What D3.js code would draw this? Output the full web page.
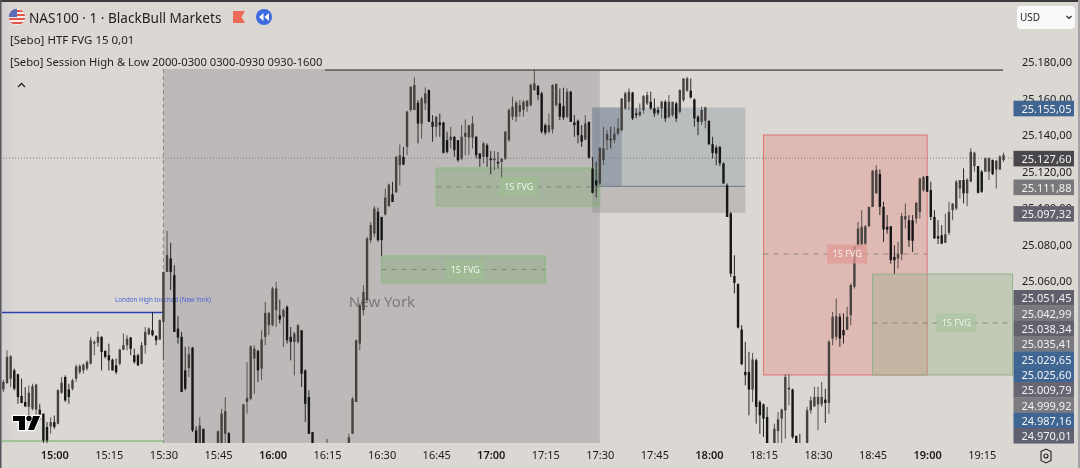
<!DOCTYPE html>
<html><head><meta charset="utf-8">
<script src="https://cdnjs.cloudflare.com/ajax/libs/d3/7.8.5/d3.min.js"></script>
<style>html,body{margin:0;padding:0;background:#dcd8d4;overflow:hidden}svg{display:block;filter:blur(0.35px)}</style>
</head><body><svg id="c" width="1080" height="468"></svg>
<script>
const PRICE_BASE = 25000;
const FIRST_MINUTE = 1; // minutes after 14:45
// each row: high, body top, body bottom, low (price minus PRICE_BASE), one row per minute
const candleRows = [
[5.9,4.7,.6,-.8],[22,18.4,4.1,3.7],[19.3,18.7,6.5,1.9],[12,11,1,0],[9.2,8.9,-3.6,-7.3],[6.5,-3,-6.9,-6.9],[1.9,-6.3,-8.7,-9],[2.8,-1.2,-9,-13.7],[3.7,2.4,-10,-10.9],[3.7,3.2,-10.5,-13.7],
[-7.3,-10.5,-13.3,-16.4],[-12.7,-12.7,-27.4,-28.8],[-17.3,-20,-27.4,-28.8],[-14.6,-17.3,-19.7,-23.7],[-13.7,-17.3,-20,-21],[.7,.2,-18.2,-18.6],[7.4,4.3,-1.2,-1.8],[8.3,7.4,-5.4,-6.3],[3.7,.6,-3.6,-7.3],[6.5,5.6,1,0],
[14.2,13.2,6.5,4.6],[14.3,13.4,10.1,8.9],[14.7,14.2,11,9.2],[16.5,15.6,12,11],[29.4,27.5,14.7,14.3],[27.5,26.6,25.7,19.3],[32.5,29.4,26.2,23.9],[29.7,29.4,21.1,11],[22,21.7,18.4,17.5],[25.7,19.3,16.5,11],
[17.5,16.9,11,11],[17.5,13.8,10.1,8.9],[23,22.4,14.7,13.8],[31.2,24.8,22.4,22],[30.3,28.4,24.8,22],[29.4,29,22.9,19.3],[22.9,19.3,15.6,14.7],[20.2,19.3,13.8,13.4],[26.6,24.8,14.7,14.3],[34.8,32.1,24.8,20.2],
[34.5,33.9,30.8,30.3],[43,33,30.3,29.7],[30.3,29.9,27.5,24.8],[38.9,38.5,27.9,27.9],[65,65,37.6,16.5],[87.5,74.2,65,65],[81,72.4,65,55],[68.7,63.2,32.1,32.1],[40.7,33.9,29,25.7],[32.1,29.4,-.8,-.8],
[23.9,11,1,0],[24.2,19.8,12.3,7.4],[23.9,23.5,-21.9,-22.8],[-19.7,-21.9,-33,-35],[-14.6,-19.1,-33,-35],[-21,-21,-33,-35],[-31,-33,-42,-45],[-32,-34,-44,-47],[-32,-35,-42,-46],[-21.9,-22.3,-33,-36],
[-10,-12.7,-33,-36],[-3.6,-11.3,-23.7,-33],[-22.8,-23.4,-33,-36],[-31,-33,-40,-44],[-32,-35,-42,-45],[-30,-33,-38,-42],[-7.3,-7.6,-33,-36],[15.6,-4,-6.3,-12.7],[24.8,24.2,-4.5,-5.4],[24.8,22.9,17.5,-1.8],
[22.4,21.7,11,4.6],[33,27.9,12,5.6],[48.6,42.5,29.4,24.8],[43.1,42.5,35.8,30.3],[56.8,55.9,35.8,35.2],[59.5,55.9,44,34.8],[49.8,41.2,38.9,36.7],[44.9,44,40.3,23.9],[46.7,45.8,27.5,25.7],[34.8,29.4,26.6,16.5],
[32.1,31.2,26.6,8.3],[36.3,35.8,26.6,25.7],[33,33,9.2,1.9],[11.6,11,-7.3,-17.3],[.1,-3.6,-23.7,-23.7],[-22.8,-22.8,-33,-36],[-31,-33,-38,-42],[-32,-34,-40,-44],[-31,-34,-39,-43],[-26.5,-30,-34,-37],
[-31,-34,-40,-42],[-32,-35,-40,-44],[-31,-33,-39,-42],[-30,-32,-38,-41],[-30,-32,-36,-40],[-23.7,-25.6,-33,-36],[-3.6,-4.5,-23.7,-23.7],[27.9,27.5,-6.3,-6.3],[47.7,46.7,25.7,22],[57.7,54,44,41.2],
[84.3,83.3,49.5,49.5],[92.2,90.7,82.4,80.6],[101.1,99.7,86,84],[100.2,98,82.4,81.5],[95.1,95.1,82.4,73.6],[110.6,105.7,96.4,96],[113.4,112.8,101.1,100.6],[114.3,107.5,103.3,103.3],[128.6,128,108.6,108.3],[134.8,128.9,123.5,112.5],
[133.5,128,123.8,123.5],[153.3,152.8,133.5,128.9],[166.5,166.5,153.7,152.8],[171.6,167.4,153.7,153.7],[159.1,157.7,146.3,135.4],[161,160,146.3,138.1],[166.1,162.8,157.3,153.7],[165,164.6,147.2,147.2],[150.9,147.2,144.5,136.3],[150.4,150,144.5,139],
[151.8,146.9,145.4,139],[147.2,146.9,130.2,129.9],[141.8,137.2,130.8,129.9],[144.5,139,137.2,132.6],[139.4,139,131.7,128],[137.2,137.2,126.2,125.3],[145.4,139,127.1,126.2],[148.5,141.2,139,128.9],[145.4,145.4,138.6,128.9],[150.4,146.3,138.6,132.6],
[139.4,139,128.9,127.1],[129.9,129.9,127.1,122.5],[136.3,135.4,128,124.4],[135.4,134.4,128,122.5],[131.3,127.1,126.2,118.5],[131.3,127.1,126.2,120.7],[130.8,125.3,124.4,121.6],[127.1,127.1,125.3,116.1],[142.3,141.8,127.1,126.2],[154.6,153.7,137.2,136.3],
[161,155.5,150,148.2],[158.8,157.7,150,147.2],[159.1,156.4,152.7,150],[159.1,158.2,153.7,150],[159.1,158.8,155.5,152.7],[168.3,167.4,156.4,155.5],[176,168.3,164.6,164.3],[167.4,166.8,161.9,159.1],[163.7,162.8,141.8,140.8],[146.3,145.4,141.2,139.9],
[151.8,145.4,141.8,140.8],[167.9,167.4,143,140.8],[168.3,167.9,156.4,155.5],[165.5,157.3,150,148.2],[165.9,155.8,149.6,148.2],[165.5,163.7,150,149.1],[164.3,163.7,147.2,147.2],[150.9,146.9,145.4,139],[148.5,147.8,139.9,135.4],[145.4,139.9,136.3,133.5],
[150.9,146.3,137.5,137.2],[147.2,147.2,127.5,127.1],[128,121.6,108.3,108],[125.3,115.2,112.5,105.7],[133.2,133,113.4,112.5],[144.5,132.6,126.2,123.5],[142.7,140.5,137.2,131.7],[144.5,137.7,137.2,132.6],[144.5,140.8,137.2,135.4],[149.1,143.6,140.8,139.9],
[160,160,142.7,141.8],[163.7,162.8,154.6,153.7],[165.5,163.7,158.2,153.7],[163.7,163.2,149.1,148.2],[154.6,151.8,150.9,149.1],[157.3,152.7,150.9,150],[161.9,161.3,153.7,151.8],[163.7,161.9,157.3,156.4],[163.7,158.2,154.6,153.7],[160,154.6,151.8,150],
[155.5,153.7,152.2,150.9],[158.8,158.2,154.6,149.1],[159.1,158.2,149.1,147.2],[161.9,158.2,150,149.1],[158.2,158.2,150.9,150],[158.2,157.3,149.1,147.2],[165,164.6,152.7,151.8],[171,171,159.1,158.2],[171.9,171,164.3,163.7],[171,164.3,160.6,160],
[160,159.5,149.1,144.5],[150.9,150,147.2,139.9],[155.5,153.7,147.2,145.4],[155.5,155.1,147.8,143.6],[147.8,147.8,135,134.4],[139,135,130.2,127.1],[134.4,133.1,129.9,123.5],[134,133.5,124.5,123],[125,124.4,113.5,113.1],[113.5,112.5,95.1,95.1],
[97.9,97,64,62.2],[74.1,62.7,59,53.2],[58.7,58.3,34.5,34],[35.8,33.4,14.4,13.9],[26.7,10.2,8.4,2.9],[21.2,10.2,.5,-13.6],[20.6,17,.5,-6.3],[17.5,16.6,-9,-18.2],[-5.4,-6.3,-13.6,-23.7],[-7.2,-7.6,-15.4,-25.5],
[-9,-14.5,-33,-36],[-31,-34,-40,-44],[-18.2,-20.9,-33,-36],[-11.8,-15.8,-22.2,-33],[-9.9,-10.5,-15.4,-33],[8.9,7.4,-10.9,-26.4],[8.9,1.6,.5,-8.1],[1,.5,-25.5,-26.4],[-24.6,-25,-33,-36],[-23.7,-33,-36,-38],
[-31,-34,-40,-43],[-9,-10.9,-33,-36],[-3.2,-5.4,-10.9,-12.7],[2,-3.5,-8.7,-9],[2,-3.5,-7.6,-21.8],[4.7,-3.5,-7.6,-9],[1,-5,-6.8,-17.8],[27.6,26.7,-6.8,-12.7],[43.1,40.4,28.5,24.8],
[50.4,40.7,29.4,27.6],[42.2,40.4,28.5,23.9],[42.2,33.1,30.3,25.7],[45.9,40.4,33.4,33.1],[58.7,57.8,41.3,35.8],[79,79,56.9,55.9],[92.4,88.7,79.6,78.7],[98.8,89.7,80.2,78.7],[90.6,90,80.5,79.6],[100.6,100.6,90,89.7],
[120.8,120.4,100.6,100.6],[123.5,120.8,108,108],[121.1,118.6,100.6,96.1],[103.4,100.6,88.2,81.4],[96.1,89.7,88.2,86],[90,90,71.4,69.5],[79.6,73.2,71.4,64],[81.4,74.7,72.3,66.8],[97.3,95.5,74.7,71.4],[102.5,95.5,93.7,88.7],
[96.1,93.3,82.3,78.7],[96.1,93.3,82,75.9],[103.4,102.8,94.2,91.5],[116.2,116.2,97.9,94.2],[117.5,117.1,109.8,108.9],[117.5,117.5,108.9,108.9],[114.4,109.8,95.1,93.3],[98.8,95.1,83.3,83.3],[93.3,84.5,83.3,80.2],[90.6,85.1,80.5,80.2],
[97,85.6,80.9,80.9],[103.4,97.9,86.4,85.1],[102.5,102.5,98.8,93.3],[115.3,114.4,99.7,98.8],[115.3,115.3,110.7,105.2],[121.7,115.3,108,102.5],[116.2,115.6,108,101],[132.7,130.8,114.4,114.4],[130.8,130.3,123,119.9],[123,123,108.3,108],
[120.8,119.9,108.9,108.3],[127.7,127.2,119.9,119.9],[127.7,127.2,119.9,115.3],[126.6,126.2,118.6,118],[126.2,125.9,121.1,110.7],[129,128.1,121.1,120.8],[130.3,129,126.2,125.3]
];
const priceTicks = [25180,25160,25140,25120,25100,25080,25060];
const timeTicks = ["15:00","15:15","15:30","15:45","16:00","16:15","16:30","16:45","17:00","17:15","17:30","17:45","18:00","18:15","18:30","18:45","19:00","19:15"];
const timeTickMinutes = [15,30,45,60,75,90,105,120,135,150,165,180,195,210,225,240,255,270];
const upperTagPrices = [25155.05,25127.60,25111.88,25097.32];
const upperTagColors = ["#3f6590","#49474b","#79787b","#63626c"];
const stackTagPrices = [25051.45,25042.99,25038.34,25035.41,25029.65,25025.60,25009.79,24999.92,24987.16,24970.01];
const stackTagColors = ["#5f5f6b","#78787f","#62626d","#78787e","#3f6593","#3f6593","#666673","#7c7c80","#3f6593","#5f6170"];
const fvgZones = [
 {from:120,to:165,top:25121.9,bottom:25101.1,mid:25111.6,tagAt:142.7,fill:"#7aa86e",stroke:"#8abb7f",tag:"#9dbd92",op:.34},
 {from:105,to:150,top:25073.7,bottom:25058.9,mid:25066.3,tagAt:128,fill:"#7aa86e",stroke:"#8abb7f",tag:"#9dbd92",op:.34},
 {from:210,to:255,top:25140,bottom:25008.5,mid:25074.8,tagAt:233,fill:"#e58e8b",stroke:"#de7573",tag:"#e29a96",op:.42},
 {from:240,to:278.5,top:25063.8,bottom:25008.5,mid:25037,tagAt:263,fill:"#95b285",stroke:"#93b08a",tag:"#a9c4a0",op:.36}
];
const blockPrices = {from:162.9,split:171,to:205,top:25155.05,mid:25111.88,bottom:25097.32};

const svg = d3.select("#c");
const x = d3.scaleLinear().domain([15,270]).range([54.3,981.7]);
const y = d3.scaleLinear().domain([25180,25060]).range([62,281]);
const plotB = 443, plotR = 1013;
const fontUI = "'Noto Sans',sans-serif";

const defs = svg.append("defs");
const lg = defs.append("linearGradient").attr("id","lf").attr("x1",0).attr("x2",1).attr("y1",0).attr("y2",0);
lg.append("stop").attr("offset",0).attr("stop-color","#c9c6d0").attr("stop-opacity",.6);
lg.append("stop").attr("offset",1).attr("stop-color","#dbd7d2").attr("stop-opacity",0);
defs.append("clipPath").attr("id","plot").append("rect").attr("x",2).attr("y",66).attr("width",plotR-2).attr("height",plotB-66);

svg.append("rect").attr("width",1080).attr("height",468).attr("fill","#dbd7d2");
svg.append("rect").attr("x",0).attr("y",0).attr("width",22).attr("height",443).attr("fill","url(#lf)");

// session
const ny = {from:45,to:165};
svg.append("rect").attr("x",x(ny.from)).attr("y",69).attr("width",x(ny.to)-x(ny.from)).attr("height",plotB-69).attr("fill","#bdb9b8");
svg.append("text").attr("x",382).attr("y",303).attr("text-anchor","middle").attr("dominant-baseline","middle").attr("font-family",fontUI).attr("font-size",15).attr("fill","#7c7878").text("New York");

// blue block
const bp = blockPrices;
svg.append("rect").attr("x",x(bp.from)).attr("y",y(bp.top)).attr("width",x(bp.to)-x(bp.from)).attr("height",y(bp.mid)-y(bp.top)).attr("fill","#84939f").attr("opacity",.38);
svg.append("rect").attr("x",x(bp.from)).attr("y",y(bp.mid)).attr("width",x(bp.to)-x(bp.from)).attr("height",y(bp.bottom)-y(bp.mid)).attr("fill","#7d7b80").attr("opacity",.3);
svg.append("rect").attr("x",x(bp.from)).attr("y",y(bp.top)).attr("width",x(bp.split)-x(bp.from)).attr("height",y(bp.mid)-y(bp.top)).attr("fill","#6a7a8e").attr("opacity",.4);
svg.append("line").attr("x1",x(bp.from)).attr("x2",x(bp.to)).attr("y1",y(bp.mid)).attr("y2",y(bp.mid)).attr("stroke","#6c7a8a").attr("stroke-width",1);

// fvg rectangles
const fg = svg.append("g");
fvgZones.forEach(z=>{
  fg.append("rect").attr("x",x(z.from)).attr("y",y(z.top)).attr("width",x(z.to)-x(z.from)).attr("height",y(z.bottom)-y(z.top))
    .attr("fill",z.fill).attr("fill-opacity",z.op).attr("stroke",z.stroke).attr("stroke-width",1);
  fg.append("line").attr("x1",x(z.from)).attr("x2",x(z.to)).attr("y1",y(z.mid)).attr("y2",y(z.mid)).attr("stroke","#6f7a6a").attr("stroke-opacity",.75).attr("stroke-dasharray","5 5");
});

// level lines
svg.append("line").attr("x1",x(45)).attr("x2",x(45)).attr("y1",69).attr("y2",plotB).attr("stroke","#8a8684").attr("stroke-dasharray","4 3");
svg.append("line").attr("x1",0).attr("x2",plotR).attr("y1",y(25127.6)+.5).attr("y2",y(25127.6)+.5).attr("stroke","#7f7c7c").attr("stroke-dasharray","1 2");
svg.append("line").attr("x1",325).attr("x2",1003).attr("y1",y(25175.6)).attr("y2",y(25175.6)).attr("stroke","#6c6967").attr("stroke-width",1.8);
svg.append("line").attr("x1",2).attr("x2",x(45)).attr("y1",312.5).attr("y2",312.5).attr("stroke","#2b42b0").attr("stroke-width",1.6);
svg.append("line").attr("x1",2).attr("x2",x(45)).attr("y1",441).attr("y2",441).attr("stroke","#8fbd86").attr("stroke-width",1.5);
svg.append("text").attr("x",163).attr("y",300).attr("text-anchor","middle").attr("dominant-baseline","middle").attr("font-family",fontUI).attr("font-size",6.2).attr("fill","#4a62d8").text("London High touched (New York)");

// candles
const cg = svg.append("g").attr("clip-path","url(#plot)");
const P = v => y(PRICE_BASE+v);
candleRows.forEach((r,k)=>{
  const m = FIRST_MINUTE+k, cx = x(m);
  const mid=(r[1]+r[2])/2, prev=k?(candleRows[k-1][1]+candleRows[k-1][2])/2:mid;
  const col = mid>=prev ? "#45423f" : "#161616";
  cg.append("line").attr("x1",cx).attr("x2",cx).attr("y1",P(r[0])).attr("y2",P(r[3])).attr("stroke",col==="#161616"?"#2a2a2a":"#555250").attr("stroke-width",1);
  cg.append("rect").attr("x",cx-1.2).attr("width",2.4).attr("y",P(r[1])).attr("height",Math.max(1,P(r[2])-P(r[1]))).attr("fill",col);
});

// fvg tags
fvgZones.forEach(z=>{
  const cxm=x(z.tagAt), cy=y(z.mid);
  svg.append("rect").attr("x",cxm-20).attr("y",cy-9.5).attr("width",40).attr("height",19).attr("fill",z.tag).attr("opacity",.75);
  svg.append("text").attr("x",cxm).attr("y",cy).attr("text-anchor","middle").attr("dominant-baseline","central").attr("font-family",fontUI).attr("font-size",9).attr("fill","#f2f5ee").text("15 FVG");
});

// axes
const fmtPrice = v => d3.format(",.2f")(v).replace(/,/g,"#").replace(".",",").replace(/#/g,".");
const axisY = d3.axisRight(y).tickValues(priceTicks).tickSize(0).tickPadding(0).tickFormat(fmtPrice);
const gy = svg.append("g").attr("transform","translate(1022,0)").call(axisY);
gy.select(".domain").remove();
gy.selectAll("text").attr("font-family",fontUI).attr("font-size",11).attr("fill","#1c1c1c");

const axisX = d3.axisBottom(x).tickValues(timeTickMinutes).tickSize(0).tickPadding(0).tickFormat((d,i)=>timeTicks[i]);
const gx = svg.append("g").attr("transform","translate(0,451)").call(axisX);
gx.select(".domain").remove();
gx.selectAll("text").attr("font-family",fontUI).attr("font-size",11).attr("fill","#1c1c1c").attr("font-weight",(d,i)=>timeTicks[i].endsWith(":00")?600:400);

// price tags
function tag(cy,col,val){
  svg.append("rect").attr("x",1013.5).attr("y",cy-7.8).attr("width",60.5).attr("height",15.6).attr("fill",col);
  svg.append("text").attr("x",1021.5).attr("y",cy).attr("dominant-baseline","central").attr("font-family",fontUI).attr("font-size",11).attr("fill","#f2f2f2").text(fmtPrice(val));
}
upperTagPrices.forEach((p,i)=>tag(y(p)+1,upperTagColors[i],p));
stackTagPrices.forEach((p,i)=>tag(297.8+i*15.33,stackTagColors[i],p));

// header
svg.append("rect").attr("width",1080).attr("height",2).attr("fill","#3a3a3c");
svg.append("rect").attr("width",1.5).attr("height",468).attr("fill","#55555a");
svg.append("rect").attr("x",1078).attr("width",2).attr("height",468).attr("fill","#a5a3a6");

// flag
const fl = svg.append("g");
defs.append("clipPath").attr("id","flag").append("circle").attr("cx",17).attr("cy",17).attr("r",8.2);
const flc = fl.append("g").attr("clip-path","url(#flag)");
flc.append("rect").attr("x",8).attr("y",8).attr("width",18).attr("height",18).attr("fill","#f4eeea");
[10,14,18,22].forEach(v=>flc.append("rect").attr("x",8).attr("y",v).attr("width",18).attr("height",2).attr("fill","#e2574c"));
flc.append("rect").attr("x",8).attr("y",8).attr("width",9).attr("height",9).attr("fill","#5b6db8");

const txt=(t,x0,yy,fs,col)=>svg.append("text").attr("x",x0).attr("y",yy).attr("dominant-baseline","central").attr("font-family",fontUI).attr("font-size",fs).attr("fill",col||"#1f1f1f").text(t);
txt("NAS100 · 1 · BlackBull Markets",29,17,13.6);
txt("[Sebo] HTF FVG 15 0,01",10,39,11.5);
txt("[Sebo] Session High & Low 2000-0300 0300-0930 0930-1600",10,61,11.2);
svg.append("path").attr("d","M233 11H245L241.5 17L245 23H233Z").attr("fill","#ee6a58");
svg.append("circle").attr("cx",264).attr("cy",17).attr("r",8).attr("fill","#3f6ae0");
svg.append("path").attr("d","M263.5 13V21L259 17ZM269 13V21L264.5 17Z").attr("fill","#fff");
svg.append("path").attr("d","M18 87L21.5 83.5L25 87").attr("fill","none").attr("stroke","#222").attr("stroke-width",1.3);

// USD box
svg.append("rect").attr("x",1017).attr("y",6).attr("width",58).attr("height",23).attr("rx",4).attr("fill","#f9f9f9");
txt("USD",1020,17,10);
svg.append("path").attr("d","M1066.5 16L1069 18.5L1071.5 16").attr("fill","none").attr("stroke","#222").attr("stroke-width",1.2);

// TV logo
svg.append("path").attr("d","M13 416H25V430H19V421H13Z M33 416H40L34 430H28Z").attr("fill","#000").attr("stroke","#fff").attr("stroke-width",2.4).attr("paint-order","stroke");
svg.append("circle").attr("cx",29).attr("cy",418.5).attr("r",2.7).attr("fill","#000").attr("stroke","#fff").attr("stroke-width",1.2).attr("paint-order","stroke");

// settings
svg.append("path").attr("d","M1041 451.5L1046 449L1051 451.5V460.5L1046 463L1041 460.5Z").attr("fill","none").attr("stroke","#222").attr("stroke-width",1.1);
svg.append("circle").attr("cx",1046).attr("cy",456).attr("r",2).attr("fill","none").attr("stroke","#222").attr("stroke-width",1.1);
</script></body></html>
